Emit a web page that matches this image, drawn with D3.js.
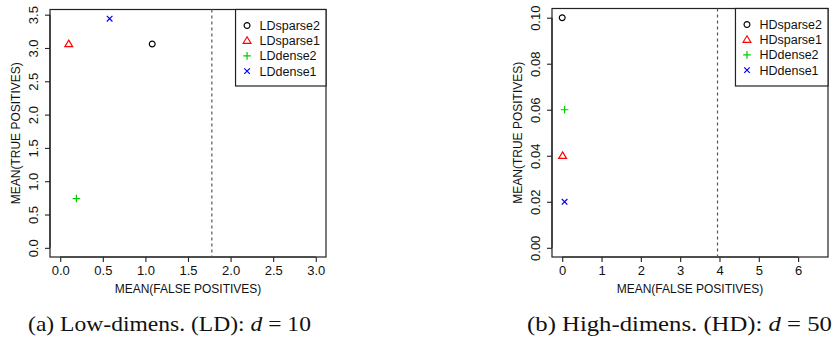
<!DOCTYPE html>
<html>
<head>
<meta charset="utf-8">
<script src="https://cdn.jsdelivr.net/npm/d3@7"></script>
<style>
  body { margin: 0; background: #fff; }
  svg { display: block; }
</style>
</head>
<body>
<script>
// ---- data ----
const ldNames = ["LDsparse2", "LDsparse1", "LDdense2", "LDdense1"];
const ldFalsePos = [1.08, 0.10, 0.19, 0.58];
const ldTruePos = [3.06, 3.06, 0.74, 3.44];
const ldCutoff = 1.78;
const ldXTicks = [0, 0.5, 1, 1.5, 2, 2.5, 3];
const ldYTicks = [0, 0.5, 1, 1.5, 2, 2.5, 3, 3.5];

const hdNames = ["HDsparse2", "HDsparse1", "HDdense2", "HDdense1"];
const hdFalsePos = [0.0, 0.01, 0.06, 0.06];
const hdTruePos = [0.10, 0.04, 0.06, 0.02];
const hdCutoff = 3.95;
const hdXTicks = [0, 1, 2, 3, 4, 5, 6];
const hdYTicks = [0, 0.02, 0.04, 0.06, 0.08, 0.10];

const shapes = ["circle", "triangle", "plus", "cross"];
const colors = ["#000000", "#ff0000", "#00cd00", "#0000ff"];

const xTitle = "MEAN(FALSE POSITIVES)";
const yTitle = "MEAN(TRUE POSITIVES)";

function main(){
    const width = 834;
    const height = 346;

    const svg = d3.select("body").append("svg")
        .attr("width", width)
        .attr("height", height)
        .style("font-family", "'Liberation Sans', Arial, sans-serif");

    // open plotting symbols, like R's pch 1..4
    const symbolTypes = {
        circle: { draw(c, s){ const r = 2.9; c.moveTo(r, 0); c.arc(0, 0, r, 0, 2 * Math.PI); } },
        triangle: { draw(c, s){ const h = 3.9; c.moveTo(0, -h); c.lineTo(h, 2.6); c.lineTo(-h, 2.6); c.closePath(); } },
        plus: { draw(c, s){ const h = 3.8; c.moveTo(-h, 0); c.lineTo(h, 0); c.moveTo(0, -h); c.lineTo(0, h); } },
        cross: { draw(c, s){ const h = 2.8; c.moveTo(-h, -h); c.lineTo(h, h); c.moveTo(-h, h); c.lineTo(h, -h); } }
    };
    const symbolPath = function(i){ return d3.symbol().type(symbolTypes[shapes[i]])(); };

    const panels = [
        { names: ldNames, xs: ldFalsePos, ys: ldTruePos, cut: ldCutoff,
          xlim: [0, 3], ylim: [0, d3.max(ldTruePos)], xTicks: ldXTicks, yTicks: ldYTicks,
          xFmt: d3.format(".1f"), yFmt: d3.format(".1f"),
          left: 50, right: 326, top: 9.5, bottom: 257 },
        { names: hdNames, xs: hdFalsePos, ys: hdTruePos, cut: hdCutoff,
          xlim: [0, 6.5], ylim: [0, d3.max(hdTruePos)], xTicks: hdXTicks, yTicks: hdYTicks,
          xFmt: d3.format("d"), yFmt: d3.format(".2f"),
          left: 552, right: 828, top: 8.5, bottom: 257 }
    ];

    // R style 4% padding of the axis range
    const pad = function(lim){ const d = (lim[1] - lim[0]) * 0.04; return [lim[0] - d, lim[1] + d]; };

    panels.forEach(function(p){
        const g = svg.append("g");
        const x = d3.scaleLinear().domain(pad(p.xlim)).range([p.left, p.right]);
        const y = d3.scaleLinear().domain(pad(p.ylim)).range([p.bottom, p.top]);

        g.append("rect")
            .attr("x", p.left).attr("y", p.top)
            .attr("width", p.right - p.left).attr("height", p.bottom - p.top)
            .attr("fill", "none").attr("stroke", "#222").attr("stroke-width", 1.2);

        // x axis
        const xa = g.append("g")
            .attr("transform", "translate(0," + p.bottom + ")")
            .call(d3.axisBottom(x).tickValues(p.xTicks).tickFormat(p.xFmt).tickSize(5).tickSizeOuter(0));
        xa.select(".domain").remove();
        xa.append("line")
            .attr("x1", x(p.xTicks[0])).attr("x2", x(p.xTicks[p.xTicks.length - 1]))
            .attr("stroke", "#222").attr("stroke-width", 1.2);
        xa.selectAll(".tick line").attr("stroke", "#222").attr("stroke-width", 1.1);
        xa.selectAll(".tick text")
            .attr("y", 18).attr("dy", null)
            .attr("fill", "#111").style("font-size", "13px").style("font-family", null);

        // y axis, labels parallel to the axis
        const ya = g.append("g")
            .attr("transform", "translate(" + p.left + ",0)")
            .call(d3.axisLeft(y).tickValues(p.yTicks).tickFormat(p.yFmt).tickSize(5).tickSizeOuter(0));
        ya.select(".domain").remove();
        ya.append("line")
            .attr("y1", y(p.yTicks[0])).attr("y2", y(p.yTicks[p.yTicks.length - 1]))
            .attr("stroke", "#222").attr("stroke-width", 1.2);
        ya.selectAll(".tick line").attr("stroke", "#222").attr("stroke-width", 1.1);
        ya.selectAll(".tick text")
            .attr("x", null).attr("dy", null)
            .attr("text-anchor", "middle")
            .attr("transform", "translate(-12.5,0) rotate(-90)")
            .attr("fill", "#111").style("font-size", "13px").style("font-family", null);

        // axis titles
        g.append("text")
            .attr("x", (p.left + p.right) / 2).attr("y", p.bottom + 36)
            .attr("text-anchor", "middle").style("font-size", "12px").attr("fill", "#111")
            .text(xTitle);
        g.append("text")
            .attr("transform", "translate(" + (p.left - 30) + "," + ((p.top + p.bottom) / 2) + ") rotate(-90)")
            .attr("text-anchor", "middle").style("font-size", "12px").attr("fill", "#111")
            .text(yTitle);

        // dashed cutoff
        g.append("line")
            .attr("x1", x(p.cut)).attr("x2", x(p.cut))
            .attr("y1", p.top).attr("y2", p.bottom)
            .attr("stroke", "#555").attr("stroke-width", 1.2)
            .attr("stroke-dasharray", "3,3");

        // points
        g.selectAll(".pt")
            .data(p.names)
            .enter().append("path")
            .attr("class", "pt")
            .attr("d", function(d, i){ return symbolPath(i); })
            .attr("transform", function(d, i){ return "translate(" + x(p.xs[i]) + "," + y(p.ys[i]) + ")"; })
            .attr("fill", "none")
            .attr("stroke", function(d, i){ return colors[i]; })
            .attr("stroke-width", 1.2);

        // legend in the top right corner
        const leg = g.append("g");
        const items = leg.selectAll(".item")
            .data(p.names)
            .enter().append("g")
            .attr("class", "item")
            .attr("transform", function(d, i){ return "translate(0," + (p.top + 16 + i * 15.2) + ")"; });
        items.append("text")
            .attr("x", 24).attr("y", 4.5)
            .style("font-size", "12.5px").attr("fill", "#111")
            .text(function(d){ return d; });
        const textW = d3.max(items.selectAll("text").nodes(), function(n){ return n.getComputedTextLength(); });
        const boxW = 24 + textW + 6;
        leg.attr("transform", "translate(" + (p.right - boxW) + ",0)");
        items.append("path")
            .attr("d", function(d, i){ return symbolPath(i); })
            .attr("transform", "translate(11.5,0)")
            .attr("fill", "none")
            .attr("stroke", function(d, i){ return colors[i]; })
            .attr("stroke-width", 1.2);
        leg.insert("rect", ":first-child")
            .attr("x", 0).attr("y", p.top)
            .attr("width", boxW).attr("height", 86 - p.top)
            .attr("fill", "#fff").attr("stroke", "#222").attr("stroke-width", 1.2);
    });

    // sub-captions
    const captions = [
        { label: "(a) Low-dimens. (LD): ", d: "d", rest: " = 10", cx: 169.5, w: 283 },
        { label: "(b) High-dimens. (HD): ", d: "d", rest: " = 50", cx: 679.5, w: 305 }
    ];
    captions.forEach(function(c){
        const t = svg.append("text")
            .attr("text-anchor", "middle")
            .style("font-family", "'Liberation Serif', 'Times New Roman', Times, serif")
            .style("font-size", "21px")
            .attr("fill", "#111");
        t.append("tspan").text(c.label);
        t.append("tspan").style("font-style", "italic").text(c.d);
        t.append("tspan").text(c.rest);
        const bw = t.node().getComputedTextLength();
        t.attr("transform", "translate(" + c.cx + ",331) scale(" + (c.w / bw) + ",1)");
    });
}
main();
</script>
</body>
</html>
